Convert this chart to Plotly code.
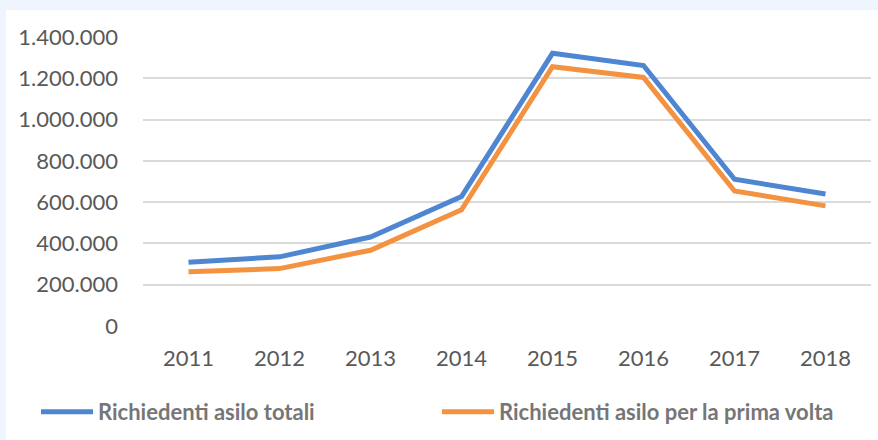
import plotly.graph_objects as go

years = ["2011", "2012", "2013", "2014", "2015", "2016", "2017", "2018"]
totali = [309000, 335000, 431000, 627000, 1321000, 1262000, 711000, 639000]
prima_volta = [263000, 278000, 367000, 563000, 1256000, 1204000, 654000, 582000]
y_ticks = [0, 200000, 400000, 600000, 800000, 1000000, 1200000, 1400000]
y_labels = ["0", "200.000", "400.000", "600.000", "800.000", "1.000.000", "1.200.000", "1.400.000"]

W, H = 878, 440
ml, mr, mt, mb = 143, 7, 37, 114
pw, ph = W - ml - mr, H - mt - mb

fig = go.Figure()
fig.add_trace(go.Scatter(x=years, y=totali, mode="lines", name="Richiedenti asilo totali",
                         line=dict(color="#4F86D2", width=5), legend="legend"))
fig.add_trace(go.Scatter(x=years, y=prima_volta, mode="lines", name="Richiedenti asilo per la prima volta",
                         line=dict(color="#F39240", width=5), legend="legend2"))

# white panel over light-blue page background
fig.add_shape(type="rect", xref="paper", yref="paper", layer="below",
              x0=(6 - ml) / pw, x1=(W + 5 - ml) / pw,
              y0=-(H + 5 - mt - ph) / ph, y1=(ph + mt - 10) / ph,
              fillcolor="white", line=dict(width=0))

legend_common = dict(orientation="h", xanchor="left",
                     y=-(412 - mt - ph) / ph, yanchor="middle",
                     font=dict(size=22, color="#767676", family="Lato, sans-serif", weight="bold"),
                     itemwidth=52, bgcolor="rgba(0,0,0,0)")

fig.update_layout(
    width=W, height=H,
    margin=dict(l=ml, r=mr, t=mt, b=mb),
    paper_bgcolor="#EEF5FC",
    plot_bgcolor="rgba(0,0,0,0)",
    font=dict(family="Lato, Carlito, Calibri, sans-serif", color="#595959"),
    showlegend=True,
    legend=dict(x=(36 - ml) / pw, **legend_common),
    legend2=dict(x=(437 - ml) / pw, **legend_common),
    xaxis=dict(type="category", showgrid=False, zeroline=False, showline=False,
               ticks="", ticklen=0, tickfont=dict(size=22), range=[-0.5, 7.5],
               ticklabelstandoff=17),
    yaxis=dict(range=[0, 1400000], tickvals=y_ticks, ticktext=y_labels,
               showgrid=True, gridcolor="#DADADA", gridwidth=1.5, zeroline=False,
               showline=False, ticks="", ticklen=0, tickfont=dict(size=22),
               ticklabelstandoff=24),
)

fig.write_html("out.html", config={"displayModeBar": False},
               post_script="document.body.style.margin='0';document.body.style.padding='0';")
